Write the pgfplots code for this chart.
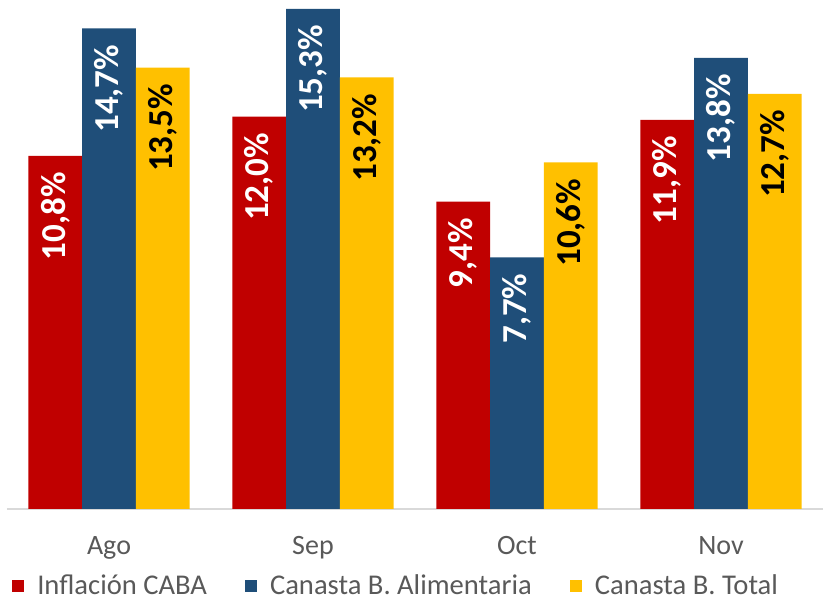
\documentclass[border=0pt]{standalone}
\usepackage{pgfplots}
\pgfplotsset{compat=1.18}
\usepackage{fontspec}
\setmainfont{Carlito}
\definecolor{cred}{HTML}{C00000}
\definecolor{cblue}{HTML}{1F4E79}
\definecolor{cyel}{HTML}{FFC000}
\definecolor{cgray}{HTML}{595959}
\definecolor{cline}{HTML}{D9D9D9}
\begin{document}
\begin{tikzpicture}
\useasboundingbox (-3.5pt,-45pt) rectangle (409pt,254.5pt);
\begin{axis}[
  at={(0,0)}, anchor=south west,
  scale only axis,
  width=408pt, height=254.5pt,
  xmin=-0.5, xmax=3.5, ymin=0, ymax=15.57,
  ybar=0pt, bar width=26.85pt,
  axis x line*=bottom,
  axis y line=none,
  x axis line style={cline, line width=0.8pt, -},
  xtick={0,1,2,3},
  xticklabels={Ago,Sep,Oct,Nov},
  major tick length=0pt,
  xticklabel style={anchor=base, yshift=-23pt, text=cgray, font=\fontsize{14}{16}\selectfont},
  ytick=\empty,
  nodes near coords={\pgfmathprintnumber[fixed,fixed zerofill,precision=1,use comma,assume math mode=true]{\pgfplotspointmeta}\%},
  every node near coord/.append style={rotate=90, anchor=east, inner xsep=8pt, font=\bfseries\fontsize{17.5}{20}\selectfont},
  legend columns=3,
  legend style={at={(axis description cs:0.006,-0.1513)}, anchor=west, draw=none, fill=none, inner sep=0pt,
    font=\fontsize{14.3}{16}\selectfont, text=cgray,
    /tikz/every odd column/.append style={column sep=4.5pt},
    /tikz/every even column/.append style={column sep=17pt}},
  legend image code/.code={\path[#1] (0pt,-3pt) rectangle (6pt,3pt);},
  clip=false,
]
\addplot[fill=cred, draw=none, every node near coord/.append style={text=white}] coordinates {(0,10.8) (1,12.0) (2,9.4) (3,11.9)};
\addplot[fill=cblue, draw=none, every node near coord/.append style={text=white}] coordinates {(0,14.7) (1,15.3) (2,7.7) (3,13.8)};
\addplot[fill=cyel, draw=none, every node near coord/.append style={text=black}] coordinates {(0,13.5) (1,13.2) (2,10.6) (3,12.7)};
\legend{Inflación CABA, Canasta B. Alimentaria, Canasta B. Total}
\end{axis}
\end{tikzpicture}
\end{document}
